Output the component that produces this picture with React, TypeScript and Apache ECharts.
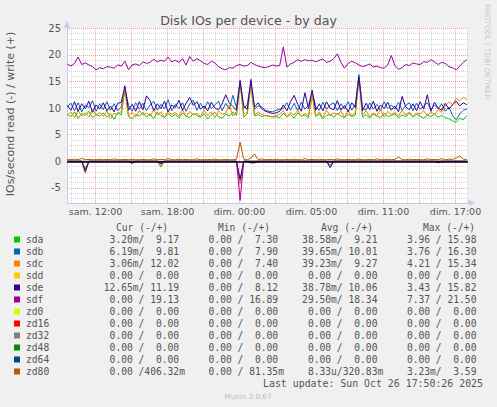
import { useEffect, useRef } from 'react';
import * as echarts from 'echarts';

// ---- time axis (hours elapsed since sam. 00:00) ----
const T0 = 9.65;
const STEP = 0.3;
const X_MIN = 9.625;
const X_MAX = 43.04;
const Y_MIN = -7.8;
const Y_MAX = 25;

const TIME_TICKS = [12, 18, 24, 30, 36, 42];
const TIME_LABELS = ['sam. 12:00', 'sam. 18:00', 'dim. 00:00', 'dim. 05:00', 'dim. 11:00', 'dim. 17:00'];
const Y_TICKS = [-5, 0, 5, 10, 15, 20, 25];
const MAJOR_X = [12, 15, 18, 21, 24, 27, 30, 33, 36, 39, 42];
const MINOR_X = [10, 11, 13, 14, 16, 17, 19, 20, 22, 23, 25, 26, 28, 29, 31, 32, 34, 35, 37, 38, 40, 41, 43];
const MAJOR_Y = [-5, 0, 5, 10, 15, 20, 25];
const MINOR_Y = [-7, -6, -4, -3, -2, -1, 1, 2, 3, 4, 6, 7, 8, 9, 11, 12, 13, 14, 16, 17, 18, 19, 21, 22, 23, 24];

// ---- write (+) values ----
const SDA_W = [
  8.9, 8.4, 9.3, 8.1, 9.0, 8.6, 9.4, 8.2, 8.8, 8.5,
  9.1, 8.3, 8.9, 7.9, 9.2, 8.7, 13.5, 8.4, 8.0, 8.8,
  8.5, 9.2, 8.3, 8.9, 8.0, 9.3, 8.6, 8.2, 9.0, 8.4,
  8.8, 8.1, 9.1, 8.5, 8.2, 9.0, 8.6, 8.3, 8.9, 8.0,
  8.7, 9.2, 8.4, 8.1, 8.9, 8.5, 9.3, 8.6, 14.8, 8.3,
  8.9, 14.6, 8.5, 8.8, 8.4, 8.6, 8.5, 8.3, 8.4, 8.2,
  9.0, 8.4, 8.8, 8.1, 9.1, 8.5, 8.7, 8.2, 12.6, 8.4,
  8.9, 8.0, 8.6, 8.8, 8.3, 9.0, 8.5, 8.2, 8.9, 8.4,
  8.7, 16.0, 8.3, 8.8, 8.1, 8.9, 8.5, 8.2, 9.0, 8.4,
  8.6, 8.9, 8.2, 8.7, 8.4, 9.0, 8.3, 8.8, 8.5, 8.1,
  8.7, 8.4, 8.9, 8.3, 8.6, 8.2, 8.0, 7.6, 7.3, 8.1,
  7.8, 8.6,
];
const SDB_W = [
  10.2, 10.9, 9.5, 11.0, 9.3, 10.6, 10.1, 11.4, 9.4, 10.8,
  9.7, 11.2, 9.6, 10.8, 9.5, 10.3, 13.8, 10.5, 9.4, 11.0,
  9.8, 10.9, 9.5, 10.6, 11.3, 9.6, 10.7, 9.9, 11.6, 9.5,
  10.7, 9.9, 11.0, 9.4, 10.8, 11.5, 9.6, 10.9, 9.8, 11.2,
  9.9, 10.6, 11.3, 9.5, 10.9, 9.8, 12.4, 10.1, 15.3, 9.9,
  10.7, 14.9, 9.8, 10.4, 10.2, 9.6, 9.4, 9.3, 9.6, 9.8,
  9.9, 11.0, 9.6, 10.9, 9.5, 11.1, 9.8, 10.5, 13.0, 10.2,
  9.6, 11.1, 9.8, 10.6, 11.0, 9.5, 10.8, 9.9, 11.2, 9.6,
  10.7, 16.3, 10.0, 9.6, 11.0, 9.8, 10.7, 9.5, 11.2, 9.9,
  10.6, 9.8, 11.1, 9.6, 10.5, 11.0, 9.5, 10.9, 9.8, 10.4,
  11.0, 9.7, 10.6, 9.9, 10.8, 9.4, 10.2, 8.6, 7.8, 8.9,
  9.6, 9.8,
];
const SDC_W = [
  8.6, 9.3, 8.2, 9.6, 8.5, 9.1, 8.3, 9.8, 8.7, 9.2,
  8.4, 9.5, 8.1, 9.0, 8.8, 9.4, 13.6, 8.5, 9.2, 8.3,
  9.6, 8.7, 9.1, 8.4, 9.7, 8.6, 9.3, 8.2, 9.5, 8.8,
  9.2, 8.5, 9.8, 8.3, 9.4, 8.7, 9.0, 8.4, 9.6, 8.6,
  9.3, 8.2, 9.5, 8.8, 9.1, 10.6, 8.5, 9.4, 14.6, 8.9,
  9.2, 14.2, 8.7, 9.3, 8.8, 8.6, 8.5, 8.4, 8.6, 8.8,
  9.5, 8.3, 9.2, 8.7, 9.6, 8.4, 9.0, 8.6, 12.8, 8.5,
  9.3, 8.2, 9.7, 8.6, 9.1, 8.8, 9.4, 8.3, 9.6, 8.5,
  9.2, 15.3, 8.7, 9.5, 8.4, 9.1, 8.6, 9.8, 8.3, 9.4,
  8.8, 9.2, 8.5, 9.6, 8.7, 9.3, 8.4, 9.1, 8.9, 9.5,
  8.6, 9.3, 8.8, 9.7, 9.2, 10.4, 11.2, 10.6, 11.8, 11.4,
  12.0, 11.6,
];
const SDE_W = [
  10.5, 9.6, 11.2, 9.4, 10.8, 9.9, 11.3, 9.2, 10.6, 9.8,
  11.0, 9.5, 10.4, 9.3, 10.9, 11.1, 14.2, 9.6, 10.7, 9.4,
  11.2, 9.7, 12.3, 11.4, 9.5, 10.8, 9.9, 11.3, 9.3, 10.6,
  10.1, 11.5, 9.6, 10.9, 12.0, 10.5, 11.2, 9.8, 10.4, 9.5,
  11.1, 10.0, 9.7, 10.8, 12.5, 11.0, 10.3, 9.6, 15.0, 10.4,
  9.8, 15.4, 10.2, 11.0, 9.9, 9.4, 9.2, 9.0, 9.1, 9.4,
  10.6, 9.5, 11.2, 12.4, 10.7, 9.4, 12.9, 9.9, 13.4, 9.6,
  10.8, 9.5, 11.2, 10.0, 9.7, 11.4, 9.6, 10.5, 9.3, 11.0,
  10.1, 15.8, 9.5, 10.9, 9.7, 11.3, 9.4, 10.6, 9.9, 11.1,
  9.6, 10.4, 9.3, 12.2, 10.2, 9.7, 10.8, 9.5, 11.2, 9.8,
  12.5, 9.4, 11.1, 10.0, 9.6, 10.9, 9.8, 10.6, 11.3, 10.4,
  11.0, 10.6,
];
const SDF_W = [
  18.3, 17.9, 18.4, 19.6, 18.2, 18.5, 18.1, 17.8, 17.2, 17.6,
  17.4, 17.8, 17.7, 17.5, 18.1, 17.9, 18.8, 17.2, 18.1, 18.3,
  18.0, 18.7, 18.4, 18.6, 19.2, 18.7, 19.0, 18.8, 19.6, 18.7,
  19.0, 18.6, 19.3, 18.1, 19.7, 18.8, 19.3, 18.9, 18.4, 18.2,
  18.8, 18.5, 17.8, 17.4, 17.2, 17.6, 17.5, 18.0, 18.2, 17.9,
  18.0, 18.6, 18.2, 17.9, 17.7, 17.6, 17.8, 18.1, 17.9, 18.0,
  21.5, 17.7, 18.3, 18.6, 19.1, 18.8, 19.1, 18.9, 19.0, 18.7,
  19.0, 19.2, 18.6, 18.8, 19.3, 20.2, 18.6, 17.5, 18.4, 18.8,
  18.5, 18.1, 17.8, 18.0, 18.3, 17.7, 17.9, 17.6, 17.5, 18.1,
  19.9, 18.0, 17.3, 17.6, 18.2, 18.0, 18.5, 18.3, 18.2, 18.7,
  18.6, 19.1, 18.7, 18.2, 18.6, 18.4, 17.8, 17.6, 17.2, 17.9,
  18.6, 19.1,
];
const ZD80_W = [
  0.35, 0.3, 0.4, 0.3, 0.55, 0.3, 0.35, 0.3, 0.3, 0.4,
  0.3, 0.35, 0.3, 0.45, 0.3, 0.3, 0.35, 0.3, 0.4, 0.3,
  0.3, 0.35, 0.3, 0.3, 0.45, 0.3, 0.35, 0.3, 0.5, 0.3,
  0.3, 0.4, 0.3, 0.35, 0.3, 0.3, 0.45, 0.3, 0.3, 0.35,
  0.3, 0.4, 0.3, 0.3, 0.35, 0.3, 0.3, 0.4, 3.59, 0.4,
  0.3, 0.6, 1.4, 0.3, 0.45, 0.3, 0.35, 0.3, 0.4, 0.3,
  0.3, 0.35, 0.3, 0.4, 0.3, 0.3, 0.5, 0.3, 0.35, 0.3,
  0.4, 0.3, 0.3, 0.35, 0.3, 0.45, 0.3, 0.3, 0.35, 0.3,
  0.3, 0.4, 0.3, 0.3, 0.35, 0.3, 0.45, 0.3, 0.3, 0.4,
  0.3, 0.35, 0.8, 0.3, 0.3, 0.4, 0.3, 0.35, 0.3, 0.3,
  0.45, 0.3, 0.35, 0.3, 0.5, 0.3, 0.4, 0.35, 0.6, 1.0,
  0.4, 0.3,
];

// ---- read (-) values ----
const SDA_R = [
  0, 0, 0, 0, 0, 1.4, 0, 0, 0, 0,
  0, 0, 0, 0, 0, 0, 0, 0, 0, 0,
  0, 0, 0, 0, 0, 0, 1.1, 0, 0, 0,
  0, 0, 0, 0, 0, 0, 0, 0, 0, 0,
  0, 0, 0, 0, 0, 0, 0, 0, 3.96, 0,
  0, 0, 0, 0, 0, 0, 0, 0, 0, 0,
  0, 0, 0, 0, 0, 0, 0, 0, 0, 0,
  0, 0, 0, 0, 0, 0, 0, 0, 0, 0,
  0, 0, 0, 0, 0, 0, 0, 0, 0, 0,
  0, 0, 0, 0, 0, 0, 0, 0, 0, 0,
  0, 0, 0, 0, 0, 0, 0, 0, 0, 0,
  0, 0,
];
const SDB_R = [
  0, 0, 0, 0, 0, 1.6, 0, 0, 0, 0,
  0, 0, 0, 0, 0, 0, 0, 0, 0, 0,
  0, 0, 0, 0, 0, 0, 0.5, 0, 0, 0,
  0, 0, 0, 0, 0, 0, 0, 0, 0, 0,
  0, 0, 0, 0, 0, 0, 0, 0, 3.76, 0,
  0, 0, 0, 0, 0, 0, 0, 0, 0, 0,
  0, 0, 0, 0, 0, 0, 0, 0, 0, 0,
  0, 0, 0, 0.8, 0, 0, 0, 0, 0, 0,
  0, 0, 0, 0, 0, 0, 0, 0, 0, 0,
  0, 0, 0, 0, 0, 0, 0, 0, 0, 0,
  0, 0, 0, 0, 0, 0, 0, 0, 0, 0,
  0, 0,
];
const SDC_R = [
  0, 0, 0, 0, 0, 2.3, 0, 0, 0, 0,
  0, 0, 0, 0, 0, 0, 0, 0, 0, 0,
  0, 0, 0, 0, 0, 0, 0.8, 0, 0, 0,
  0, 0, 0, 0, 0, 0, 0, 0, 0, 0,
  0, 0, 0, 0, 0, 0, 0, 0, 4.21, 0,
  0, 0, 0, 0, 0, 0, 0, 0, 0, 0,
  0, 0, 0, 0, 0, 0, 0, 0, 0, 0,
  0, 0, 0, 0, 0, 0, 0, 0, 0, 0,
  0, 0, 0, 0, 0, 0, 0, 0, 0, 0,
  0, 0, 0, 0, 0, 0, 0, 0, 0, 0,
  0, 0, 0, 0, 0, 0, 0, 0, 0, 0,
  0, 0,
];
const SDE_R = [
  0, 0, 0, 0, 0, 1.9, 0, 0, 0, 0,
  0, 0, 0, 0, 0, 0, 0, 0, 0.4, 0,
  0, 0, 0, 0, 0, 0, 0.4, 0, 0, 0,
  0, 0, 0, 0, 0, 0, 0, 0, 0, 0,
  0, 0, 0, 0, 0, 0, 0, 0, 3.43, 0,
  0, 0.3, 0.3, 0, 0, 0, 0, 0, 0, 0,
  0, 0, 0, 0, 0, 0, 0, 0, 0, 0,
  0, 0, 0, 1.2, 0, 0, 0, 0, 0, 0,
  0, 0, 0, 0, 0, 0, 0, 0, 0, 0,
  0, 0, 0, 0, 0, 0, 0, 0, 0, 0,
  0, 0, 0, 0.3, 0, 0, 0, 0, 0, 0,
  0, 0,
];
const SDF_R = [
  0, 0, 0, 0, 0, 0, 0, 0, 0, 0,
  0, 0, 0, 0, 0, 0, 0, 0, 0, 0,
  0, 0, 0, 0, 0, 0, 0, 0, 0, 0,
  0, 0, 0, 0, 0, 0, 0, 0, 0, 0,
  0, 0, 0, 0, 0, 0, 0, 0, 7.37, 0,
  0, 0, 0, 0, 0, 0, 0, 0, 0, 0,
  0, 0, 0, 0, 0, 0, 0, 0, 0, 0,
  0, 0, 0, 0, 0, 0, 0, 0, 0, 0,
  0, 0, 0, 0, 0, 0, 0, 0, 0, 0,
  0, 0, 0, 0, 0, 0, 0, 0, 0, 0,
  0, 0, 0, 0, 0, 0, 0, 0, 0, 0,
  0, 0,
];

// ---- legend ----
const DEVICES = ['sda', 'sdb', 'sdc', 'sdd', 'sde', 'sdf', 'zd0', 'zd16', 'zd32', 'zd48', 'zd64', 'zd80'];
const COLORS = ['#00CC00', '#0066B3', '#FF8000', '#FFCC00', '#330099', '#990099', '#CCFF00', '#FF0000', '#808080', '#008F00', '#00487D', '#B35A00'];
const HEADERS = ['Cur (-/+)', 'Min (-/+)', 'Avg (-/+)', 'Max (-/+)'];
const CUR_READ = ['3.20m', '6.19m', '3.06m', '0.00 ', '12.65m', '0.00 ', '0.00 ', '0.00 ', '0.00 ', '0.00 ', '0.00 ', '0.00 '];
const CUR_WRITE = ['9.17 ', '9.81 ', '12.02 ', '0.00 ', '11.19 ', '19.13 ', '0.00 ', '0.00 ', '0.00 ', '0.00 ', '0.00 ', '406.32m'];
const MIN_READ = ['0.00 ', '0.00 ', '0.00 ', '0.00 ', '0.00 ', '0.00 ', '0.00 ', '0.00 ', '0.00 ', '0.00 ', '0.00 ', '0.00 '];
const MIN_WRITE = ['7.30 ', '7.90 ', '7.40 ', '0.00 ', '8.12 ', '16.89 ', '0.00 ', '0.00 ', '0.00 ', '0.00 ', '0.00 ', '81.35m'];
const AVG_READ = ['38.58m', '39.65m', '39.23m', '0.00 ', '38.78m', '29.50m', '0.00 ', '0.00 ', '0.00 ', '0.00 ', '0.00 ', '8.33u'];
const AVG_WRITE = ['9.21 ', '10.01 ', '9.27 ', '0.00 ', '10.06 ', '18.34 ', '0.00 ', '0.00 ', '0.00 ', '0.00 ', '0.00 ', '320.83m'];
const MAX_READ = ['3.96 ', '3.76 ', '4.21 ', '0.00 ', '3.43 ', '7.37 ', '0.00 ', '0.00 ', '0.00 ', '0.00 ', '0.00 ', '3.23m'];
const MAX_WRITE = ['15.98 ', '16.30 ', '15.34 ', '0.00 ', '15.82 ', '21.50 ', '0.00 ', '0.00 ', '0.00 ', '0.00 ', '0.00 ', '3.59 '];

const TITLE = 'Disk IOs per device - by day';
const Y_TITLE = 'IOs/second read (-) / write (+)';
const SIDE_TEXT = 'RRDTOOL / TOBI OETIKER';
const LAST_UPDATE = 'Last update: Sun Oct 26 17:50:26 2025';
const FOOTER = 'Munin 2.0.67';

const TEXT_COLOR = '#555555';
const MONO = '"DejaVu Sans Mono", "Liberation Mono", monospace';
const SANS = '"DejaVu Sans", "Noto Sans", sans-serif';

const nb = (s: string) => s.replace(/ /g, '\u00A0');
const pad7 = (s: string) => (s.length >= 7 ? s : ' '.repeat(7 - s.length) + s);

function toPoints(arr: number[], sign: number) {
  return arr.map((v, i) => [T0 + i * STEP, sign * v]);
}

export default function App() {
  const ref = useRef<HTMLDivElement>(null);

  useEffect(() => {
    if (!ref.current) return;
    const chart = echarts.init(ref.current, undefined, { renderer: 'svg' });

    const minorStyle = { color: '#D4D4D4', width: 1, type: [1, 1] as number[] };
    const majorStyle = { color: '#F0A0A0', width: 1, type: [1, 1] as number[] };
    const gridLines = [
      ...MINOR_X.map((v) => ({ xAxis: v, lineStyle: minorStyle })),
      ...MINOR_Y.map((v) => ({ yAxis: v, lineStyle: minorStyle })),
      ...MAJOR_X.map((v) => ({ xAxis: v, lineStyle: majorStyle })),
      ...MAJOR_Y.map((v) => ({ yAxis: v, lineStyle: majorStyle })),
    ];

    const mk = (name: string, color: string, data: number[][], extra: any = {}) => ({
      type: 'line',
      name,
      data,
      symbol: 'none',
      showSymbol: false,
      silent: true,
      z: 2,
      lineStyle: { color, width: 1 },
      itemStyle: { color },
      emphasis: { disabled: true },
      ...extra,
    });

    const series: any[] = [
      mk('sda read', COLORS[0], toPoints(SDA_R, -1), {
        markLine: {
          silent: true,
          z: 1,
          symbol: ['none', 'none'],
          label: { show: false },
          emphasis: { disabled: true },
          data: gridLines,
        },
      }),
      mk('sda', COLORS[0], toPoints(SDA_W, 1)),
      mk('sdb read', COLORS[1], toPoints(SDB_R, -1)),
      mk('sdb', COLORS[1], toPoints(SDB_W, 1)),
      mk('sdc read', COLORS[2], toPoints(SDC_R, -1)),
      mk('sdc', COLORS[2], toPoints(SDC_W, 1)),
      mk('sde read', COLORS[4], toPoints(SDE_R, -1)),
      mk('sde', COLORS[4], toPoints(SDE_W, 1)),
      mk('sdf read', COLORS[5], toPoints(SDF_R, -1)),
      mk('sdf', COLORS[5], toPoints(SDF_W, 1)),
      mk('zd80', COLORS[11], toPoints(ZD80_W, 1), {
        markLine: {
          silent: true,
          z: 3,
          symbol: ['none', 'none'],
          label: { show: false },
          emphasis: { disabled: true },
          data: [{ yAxis: 0, lineStyle: { color: '#000000', width: 1.5, type: 'solid' } }],
        },
      }),
    ];

    const LEG_FONT = `9.63px ${MONO}`;
    const graphics: any[] = [];
    graphics.push({
      type: 'text',
      x: 248.5,
      y: 20,
      style: { text: TITLE, textAlign: 'center', textVerticalAlign: 'middle', font: `12.6px ${SANS}`, fill: TEXT_COLOR },
    });
    graphics.push({
      type: 'text',
      x: 10,
      y: 114,
      rotation: Math.PI / 2,
      style: { text: Y_TITLE, textAlign: 'center', textVerticalAlign: 'middle', font: `11px ${SANS}`, fill: TEXT_COLOR },
    });
    graphics.push({
      type: 'text',
      x: 487,
      y: 52,
      rotation: -Math.PI / 2,
      style: { text: SIDE_TEXT, textAlign: 'center', textVerticalAlign: 'middle', font: `7.4px ${SANS}`, fill: '#C8C8C8' },
    });

    const headerX = [116, 218, 321, 423];
    HEADERS.forEach((h, k) => {
      graphics.push({
        type: 'text',
        x: headerX[k],
        y: 227.5,
        style: { text: h, textAlign: 'left', textVerticalAlign: 'middle', font: LEG_FONT, fill: TEXT_COLOR },
      });
    });

    const cellStart = [98, 197, 296.3, 395.3];
    const readCols = [CUR_READ, MIN_READ, AVG_READ, MAX_READ];
    const writeCols = [CUR_WRITE, MIN_WRITE, AVG_WRITE, MAX_WRITE];

    DEVICES.forEach((dev, r) => {
      const cy = 239.5 + r * 12;
      graphics.push({ type: 'rect', shape: { x: 14, y: cy - 3, width: 6, height: 6 }, style: { fill: COLORS[r] } });
      graphics.push({
        type: 'text',
        x: 26,
        y: cy,
        style: { text: dev, textAlign: 'left', textVerticalAlign: 'middle', font: LEG_FONT, fill: TEXT_COLOR },
      });
      for (let k = 0; k < 4; k++) {
        const cell = pad7(readCols[k][r]) + '/' + pad7(writeCols[k][r]);
        graphics.push({
          type: 'text',
          x: cellStart[k],
          y: cy,
          style: { text: nb(cell.replace(/\s+$/, '')), textAlign: 'left', textVerticalAlign: 'middle', font: LEG_FONT, fill: TEXT_COLOR },
        });
      }
    });

    graphics.push({
      type: 'text',
      x: 483,
      y: 383.5,
      style: { text: LAST_UPDATE, textAlign: 'right', textVerticalAlign: 'middle', font: `9.9px ${MONO}`, fill: TEXT_COLOR },
    });
    graphics.push({
      type: 'text',
      x: 248,
      y: 396,
      style: { text: FOOTER, textAlign: 'center', textVerticalAlign: 'middle', font: `7.2px ${SANS}`, fill: '#BBBBBB' },
    });

    chart.setOption({
      animation: false,
      backgroundColor: '#F0F0F0',
      grid: {
        left: 67,
        top: 28.3,
        width: 401,
        height: 174.5,
        show: true,
        backgroundColor: '#FFFFFF',
        borderWidth: 0,
      },
      xAxis: {
        type: 'value',
        min: X_MIN,
        max: X_MAX,
        axisLine: {
          show: true,
          onZero: false,
          lineStyle: { color: '#C8C8F0', width: 1 },
          symbol: ['none', 'triangle'],
          symbolSize: [6, 7],
          symbolOffset: [0, 4],
        },
        axisTick: { show: false },
        splitLine: { show: false },
        axisLabel: {
          customValues: TIME_TICKS,
          formatter: (v: number) => {
            const idx = TIME_TICKS.findIndex((t) => Math.abs(t - v) < 1e-6);
            return idx >= 0 ? TIME_LABELS[idx] : '';
          },
          color: TEXT_COLOR,
          fontFamily: SANS,
          fontSize: 9.5,
          margin: 4,
        },
      },
      yAxis: {
        type: 'value',
        min: Y_MIN,
        max: Y_MAX,
        axisLine: {
          show: true,
          onZero: false,
          lineStyle: { color: '#C8C8F0', width: 1 },
          symbol: ['none', 'triangle'],
          symbolSize: [6, 7],
          symbolOffset: [0, 4],
        },
        axisTick: { show: false },
        splitLine: { show: false },
        axisLabel: {
          customValues: Y_TICKS,
          color: TEXT_COLOR,
          fontFamily: SANS,
          fontSize: 10,
          margin: 6,
        },
      },
      series,
      graphic: graphics,
    });

    return () => chart.dispose();
  }, []);

  return <div ref={ref} style={{ position: 'fixed', left: 0, top: 0, width: 497, height: 407 }} />;
}
